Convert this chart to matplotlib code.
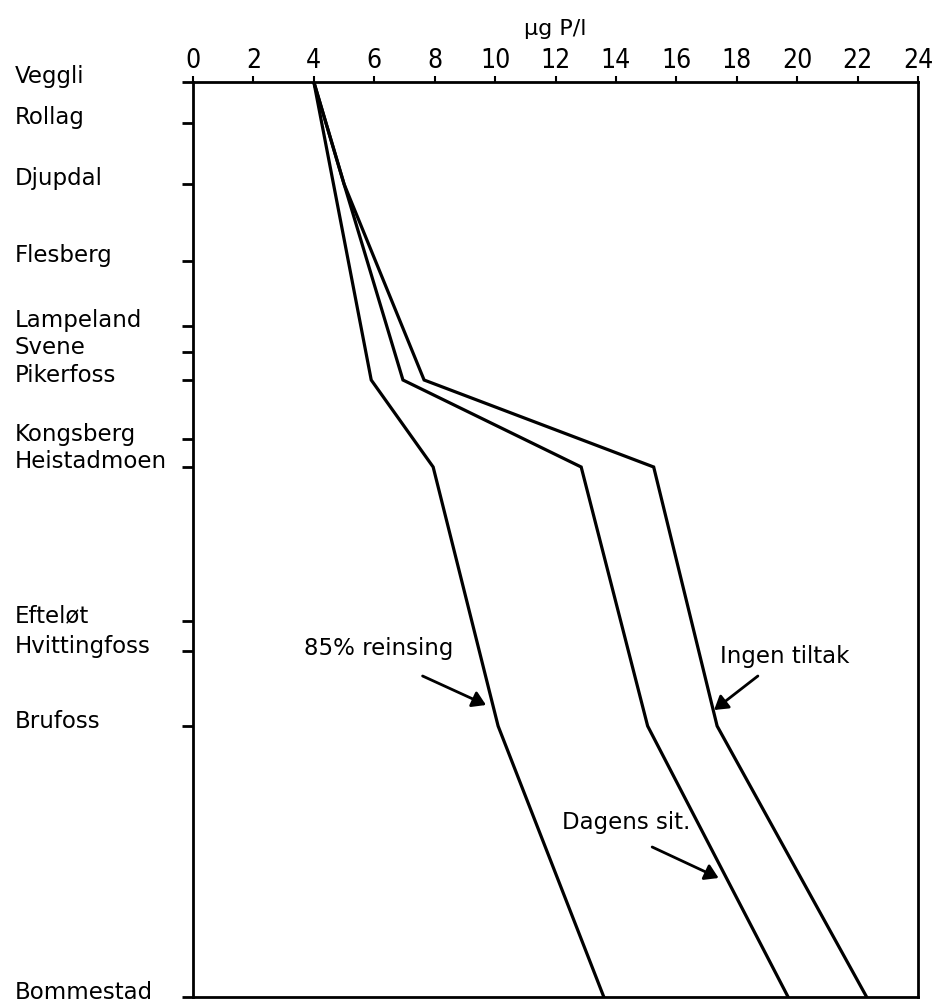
import numpy as np
import matplotlib
matplotlib.use('Agg')
import matplotlib.pyplot as plt
from matplotlib import transforms

# stations along the river, position downstream (relative distance)
stations = ['Veggli', 'Rollag', 'Djupdal', 'Flesberg', 'Lampeland', 'Svene', 'Pikerfoss',
            'Kongsberg', 'Heistadmoen', 'Efteløt', 'Hvittingfoss', 'Brufoss', 'Bommestad']
dist = [0, 41, 102, 179, 244, 270, 298, 357, 385, 539, 569, 644, 915]

# phosphorus (ug P/l) at the break points of each curve
reins_st = ['Veggli', 'Pikerfoss', 'Heistadmoen', 'Brufoss', 'Bommestad']
reins_val = [4.0, 5.9, 7.95, 10.1, 13.6]

dagens_st = ['Veggli', 'Djupdal', 'Pikerfoss', 'Heistadmoen', 'Brufoss', 'Bommestad']
dagens_val = [4.0, 5.0, 6.95, 12.85, 15.05, 19.7]

ingen_st = ['Veggli', 'Djupdal', 'Pikerfoss', 'Heistadmoen', 'Brufoss', 'Bommestad']
ingen_val = [4.0, 5.0, 7.65, 15.25, 17.35, 22.3]

xticks = np.arange(0, 25, 2)

pos = dict(zip(stations, dist))

fig = plt.figure(figsize=(9.44, 10.07), dpi=100)
ax = fig.add_axes([193/944, 10/1007, 725/944, 915/1007])

for st, val in [(reins_st, reins_val), (dagens_st, dagens_val), (ingen_st, ingen_val)]:
    ax.plot(val, [pos[s] for s in st], color='black', lw=2.3, solid_joinstyle='miter')

ax.set_xlim(0, 24)
ax.set_ylim(915, 0)

ax.xaxis.tick_top()
ax.set_xticks(xticks)
ax.set_xticklabels([str(t) for t in xticks], fontsize=19, fontstretch='condensed')
ax.tick_params(axis='x', direction='out', length=4, width=1.5, pad=2)
ax.set_title('μg P/l', fontsize=16, pad=34, x=0.50)

ax.set_yticks(dist)
ax.set_yticklabels([])
ax.tick_params(axis='y', direction='out', length=8, width=2)

for sp in ax.spines.values():
    sp.set_linewidth(2)

# station names, left aligned at the figure edge
tr = transforms.blended_transform_factory(fig.transFigure, ax.transData)
tr = tr + transforms.ScaledTranslation(0, 5/100, fig.dpi_scale_trans)
for s, d in zip(stations, dist):
    ax.text(15/944, d, s, transform=tr, ha='left', va='center', fontsize=16.5, clip_on=False)

arw = dict(arrowstyle='-|>,head_length=0.8,head_width=0.5', lw=2, color='black',
           shrinkA=0, shrinkB=0)

ax.text(6.15, 566, '85% reinsing', fontsize=16.5, ha='center', va='center')
ax.annotate('', xy=(9.7, 623), xytext=(7.6, 594), arrowprops=arw)

ax.text(19.6, 575, 'Ingen tiltak', fontsize=16.5, ha='center', va='center')
ax.annotate('', xy=(17.25, 628), xytext=(18.7, 594), arrowprops=arw)

ax.text(14.35, 741, 'Dagens sit.', fontsize=16.5, ha='center', va='center')
ax.annotate('', xy=(17.4, 796), xytext=(15.2, 765), arrowprops=arw)

fig.savefig('out.png', dpi=100)
